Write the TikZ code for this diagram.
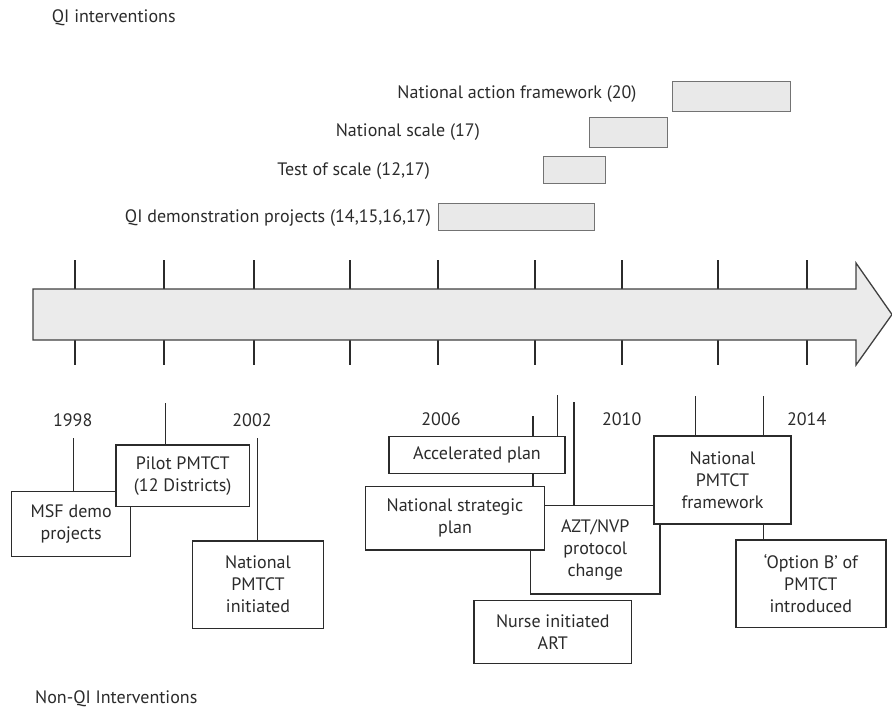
\documentclass[tikz,border=0pt]{standalone}
\usepackage{fontspec}
\setmainfont{PT Sans}
\usetikzlibrary{positioning, backgrounds}
\definecolor{ink}{HTML}{2B2B2B}
\definecolor{barfill}{HTML}{E9E9E9}
\definecolor{shaftfill}{HTML}{EBEBEB}
\tikzstyle{eventbox} = [rectangle, draw=ink, line width=1.4pt, fill=white, align=center, inner sep=0pt, text=ink]
\tikzstyle{eventlink} = [draw=ink, line width=1.4pt]
\tikzstyle{qibar} = [rectangle, draw=black!55, line width=1pt, fill=barfill, inner sep=0pt]
\tikzstyle{qilabel} = [anchor=east, inner sep=0pt, text=ink]
\tikzstyle{yearlabel} = [inner sep=0pt, text=ink]
\tikzstyle{yeartick} = [draw=ink, line width=1.2pt]
\tikzstyle{timeline} = [draw=ink!90, line width=1.3pt, fill=shaftfill]

\begin{document}
\begin{tikzpicture}[x=1pt, y=-1pt, font=\fontsize{18}{22}\selectfont]
    \useasboundingbox (0,0) rectangle (892,707);

    % headings
    \node (qihead) [anchor=west, inner sep=0pt, text=ink] at (51.7,18) {QI interventions};
    \node (nonqihead) [anchor=west, inner sep=0pt, text=ink] at (35,699) {Non-QI Interventions};

    % QI bars
    \node (barframe) [qibar, minimum width=117.7pt, minimum height=30.7pt] at (731.2,96.4) {};
    \node (barscale) [qibar, minimum width=78.7pt, minimum height=30pt] at (628.4,132.7) {};
    \node (bartest) [qibar, minimum width=62.7pt, minimum height=26.6pt] at (574.4,170) {};
    \node (bardemo) [qibar, minimum width=156pt, minimum height=27.7pt] at (516,216.9) {};
    \node (labframe) [qilabel] at (636.7,94) {National action framework (20)};
    \node (labscale) [qilabel] at (480,132) {National scale (17)};
    \node (labtest) [qilabel] at (430,171) {Test of scale (12,17)};
    \node (labdemo) [qilabel] at (431,218) {QI demonstration projects (14,15,16,17)};

    % time arrow
    \foreach \x in {75,164,254,350,438,535,622,718,807} {
        \draw [yeartick] (\x,260) -- (\x,289);
        \draw [yeartick] (\x,340) -- (\x,365);
    }
    \draw [timeline] (33,289) -- (856,289) -- (856,263) -- (892,314.5) -- (856,365) -- (856,340) -- (33,340) -- cycle;

    % years
    \node (y1998) [yearlabel] at (72.7,420) {1998};
    \node (y2002) [yearlabel] at (252,420) {2002};
    \node (y2006) [yearlabel] at (441,419) {2006};
    \node (y2010) [yearlabel] at (621.7,419) {2010};
    \node (y2014) [yearlabel] at (806.7,419) {2014};

    % non-QI events
    \node (msf) [eventbox, minimum width=119pt, minimum height=65pt] at (71.2,524.2) {MSF demo\\projects};
    \node (pilot) [eventbox, minimum width=133.3pt, minimum height=61.7pt] at (182.7,475.8) {Pilot PMTCT\\(12 Districts)};
    \node (initiated) [eventbox, minimum width=130.6pt, minimum height=87.3pt] at (258,584.7) {National\\PMTCT\\initiated};
    \node (azt) [eventbox, minimum width=129.3pt, minimum height=88.3pt] at (595.3,549.8) {AZT/NVP\\protocol\\change};
    \node (strategic) [eventbox, minimum width=178.6pt, minimum height=63.3pt] at (455,518.3) {National strategic\\plan};
    \node (accel) [eventbox, minimum width=176pt, minimum height=36.6pt] at (477,455) {Accelerated plan};
    \node (nurse) [eventbox, minimum width=157.7pt, minimum height=62.7pt] at (552.8,632) {Nurse initiated\\ART};
    \node (framework) [eventbox, minimum width=137pt, minimum height=88pt] at (722.5,480) {National\\PMTCT\\framework};
    \node (optionb) [eventbox, minimum width=150pt, minimum height=87.7pt] at (810.8,583.8) {‘Option B’ of\\PMTCT\\introduced};

    \begin{scope}[on background layer]
        \coordinate (cmsf) at (73.3,438);
        \coordinate (cpilot) at (165.7,403);
        \coordinate (cinit) at (257.3,438);
        \coordinate (cstrat) at (533,416);
        \coordinate (caccel) at (557.7,395);
        \coordinate (cazt) at (574,402);
        \coordinate (cframe) at (695.7,396);
        \coordinate (coption) at (763.3,396);
        \draw [eventlink] (cmsf) -- (cmsf |- msf.north);
        \draw [eventlink] (cpilot) -- (cpilot |- pilot.north);
        \draw [eventlink] (cinit) -- (cinit |- initiated.north);
        \draw [eventlink] (cstrat) -- (cstrat |- strategic.north);
        \draw [eventlink] (caccel) -- (caccel |- accel.north);
        \draw [eventlink] (cazt) -- (cazt |- azt.north);
        \draw [eventlink] (cframe) -- (cframe |- framework.north);
        \draw [eventlink] (coption) -- (coption |- optionb.north);
    \end{scope}
\end{tikzpicture}
\end{document}
